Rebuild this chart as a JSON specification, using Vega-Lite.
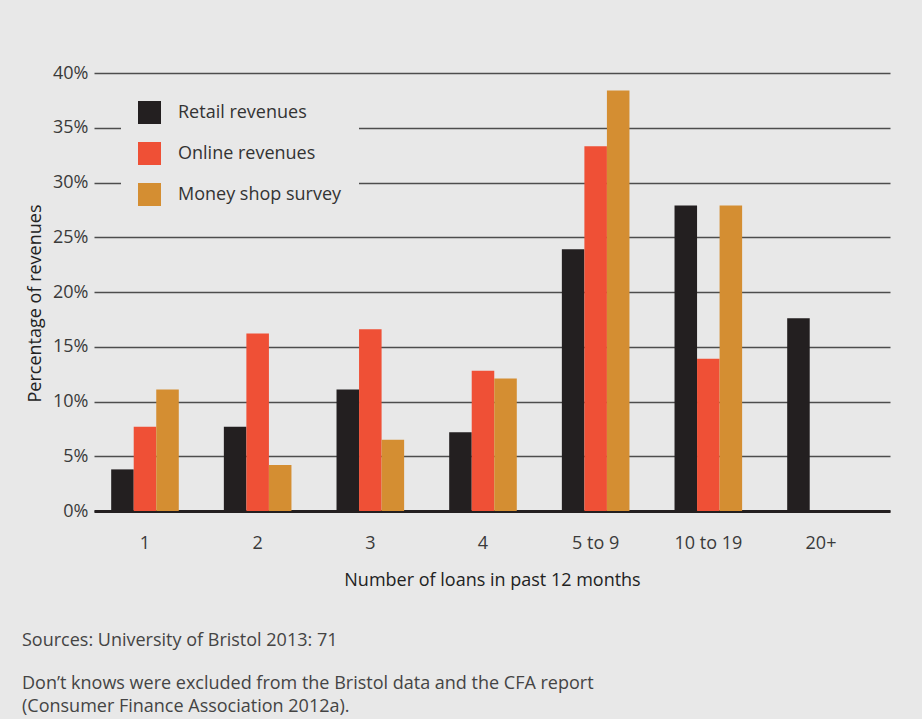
{
  "$schema": "https://vega.github.io/schema/vega-lite/v6.json",
  "width": 796,
  "height": 438,
  "autosize": {"type": "none"},
  "padding": {"left": 94, "top": 73, "right": 32, "bottom": 208},
  "background": "#e8e8e8",
  "config": {
    "view": {"stroke": null},
    "font": "Open Sans"
  },
  "title": {
    "text": "Sources: University of Bristol 2013: 71",
    "subtitle": [
      "Don’t knows were excluded from the Bristol data and the CFA report",
      "(Consumer Finance Association 2012a)."
    ],
    "orient": "bottom",
    "anchor": "start",
    "frame": "group",
    "dx": -72,
    "offset": 43,
    "fontSize": 18,
    "fontWeight": "normal",
    "color": "#444444",
    "subtitleFontSize": 18,
    "subtitleColor": "#444444",
    "subtitleLineHeight": 23,
    "subtitlePadding": 25
  },
  "data": {
    "values": [
      {"loans": "1", "series": "Retail revenues", "pct": 3.8},
      {"loans": "1", "series": "Online revenues", "pct": 7.7},
      {"loans": "1", "series": "Money shop survey", "pct": 11.1},
      {"loans": "2", "series": "Retail revenues", "pct": 7.7},
      {"loans": "2", "series": "Online revenues", "pct": 16.2},
      {"loans": "2", "series": "Money shop survey", "pct": 4.2},
      {"loans": "3", "series": "Retail revenues", "pct": 11.1},
      {"loans": "3", "series": "Online revenues", "pct": 16.6},
      {"loans": "3", "series": "Money shop survey", "pct": 6.5},
      {"loans": "4", "series": "Retail revenues", "pct": 7.2},
      {"loans": "4", "series": "Online revenues", "pct": 12.8},
      {"loans": "4", "series": "Money shop survey", "pct": 12.1},
      {"loans": "5 to 9", "series": "Retail revenues", "pct": 23.9},
      {"loans": "5 to 9", "series": "Online revenues", "pct": 33.3},
      {"loans": "5 to 9", "series": "Money shop survey", "pct": 38.4},
      {"loans": "10 to 19", "series": "Retail revenues", "pct": 27.9},
      {"loans": "10 to 19", "series": "Online revenues", "pct": 13.9},
      {"loans": "10 to 19", "series": "Money shop survey", "pct": 27.9},
      {"loans": "20+", "series": "Retail revenues", "pct": 17.6}
    ]
  },
  "mark": {"type": "bar"},
  "encoding": {
    "x": {
      "field": "loans",
      "type": "nominal",
      "sort": ["1", "2", "3", "4", "5 to 9", "10 to 19", "20+"],
      "scale": {"paddingInner": 0.4, "paddingOuter": 0.2325, "align": 0.328},
      "axis": {
        "title": "Number of loans in past 12 months",
        "titleFontSize": 18,
        "titleFontWeight": "normal",
        "titleColor": "#222222",
        "titlePadding": 19,
        "labelAngle": 0,
        "labelFontSize": 18,
        "labelColor": "#3a3a3a",
        "labelPadding": 23,
        "ticks": false,
        "tickSize": 0,
        "domainColor": "#231f20",
        "domainWidth": 3,
        "grid": false
      }
    },
    "xOffset": {
      "field": "series",
      "type": "nominal",
      "sort": ["Retail revenues", "Online revenues", "Money shop survey"],
      "scale": {"paddingInner": 0, "paddingOuter": 0}
    },
    "y": {
      "field": "pct",
      "type": "quantitative",
      "scale": {"domain": [0, 40]},
      "axis": {
        "title": "Percentage of revenues",
        "titleFontSize": 18,
        "titleFontWeight": "normal",
        "titleColor": "#222222",
        "titlePadding": 8,
        "titleY": 230,
        "values": [0, 5, 10, 15, 20, 25, 30, 35, 40],
        "labelExpr": "datum.value + '%'",
        "labelFontSize": 18,
        "labelColor": "#3a3a3a",
        "labelPadding": 6,
        "ticks": false,
        "tickSize": 0,
        "domain": false,
        "grid": true,
        "gridColor": "#4d4d4d",
        "gridWidth": 1.5
      }
    },
    "color": {
      "field": "series",
      "type": "nominal",
      "sort": ["Retail revenues", "Online revenues", "Money shop survey"],
      "scale": {
        "domain": ["Retail revenues", "Online revenues", "Money shop survey"],
        "range": ["#231f20", "#ef5036", "#d48e32"]
      },
      "legend": {
        "title": null,
        "orient": "none",
        "legendX": 27,
        "legendY": 11,
        "padding": 17,
        "fillColor": "#e8e8e8",
        "symbolType": "square",
        "symbolSize": 529,
        "symbolStrokeWidth": 0,
        "symbolOpacity": 1,
        "labelFontSize": 18,
        "labelColor": "#333333",
        "labelOffset": 17,
        "rowPadding": 18,
        "labelLimit": 400
      }
    }
  }
}
